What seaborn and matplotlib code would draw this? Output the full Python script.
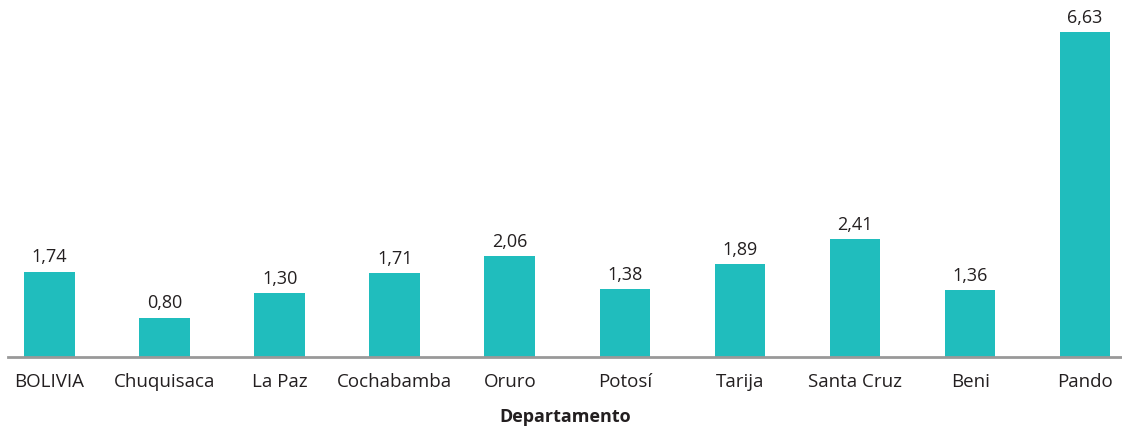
import pandas as pd
import matplotlib.pyplot as plt
import seaborn as sns

# Datos por departamento
departamentos = ['BOLIVIA', 'Chuquisaca', 'La Paz', 'Cochabamba', 'Oruro',
                 'Potosí', 'Tarija', 'Santa Cruz', 'Beni', 'Pando']
valores = [1.74, 0.80, 1.30, 1.71, 2.06, 1.38, 1.89, 2.41, 1.36, 6.63]

df = pd.DataFrame({'Departamento': departamentos, 'valor': valores})

sns.set_style('white')
plt.rcParams['font.family'] = ['Open Sans', 'DejaVu Sans']

fig = plt.figure(figsize=(11.22, 4.31), dpi=100)
ax = fig.add_axes([8 / 1122, 1 - 358 / 431, 1 - 8 / 1122, (358 - 14) / 431])

sns.barplot(data=df, x='Departamento', y='valor', color='#20BDBD',
            saturation=1, width=0.44, linewidth=0, ax=ax)

txt = '#231F20'
for i, v in enumerate(valores):
    ax.text(i, v + 0.13, f'{v:.2f}'.replace('.', ','), ha='center', va='bottom',
            fontsize=13, color=txt)

ax.set_xlim(-0.36, 9.32)
ax.set_ylim(0, 7.02)
ax.set_yticks([])
ax.set_ylabel('')
ax.set_xlabel('Departamento', fontsize=13, fontweight='bold', color=txt, labelpad=12)
ax.tick_params(axis='x', labelsize=13.5, colors=txt, length=0, pad=11)

for s in ['top', 'right', 'left']:
    ax.spines[s].set_visible(False)
ax.spines['bottom'].set_color('#999999')
ax.spines['bottom'].set_linewidth(2)

fig.savefig('out.png', dpi=100)
